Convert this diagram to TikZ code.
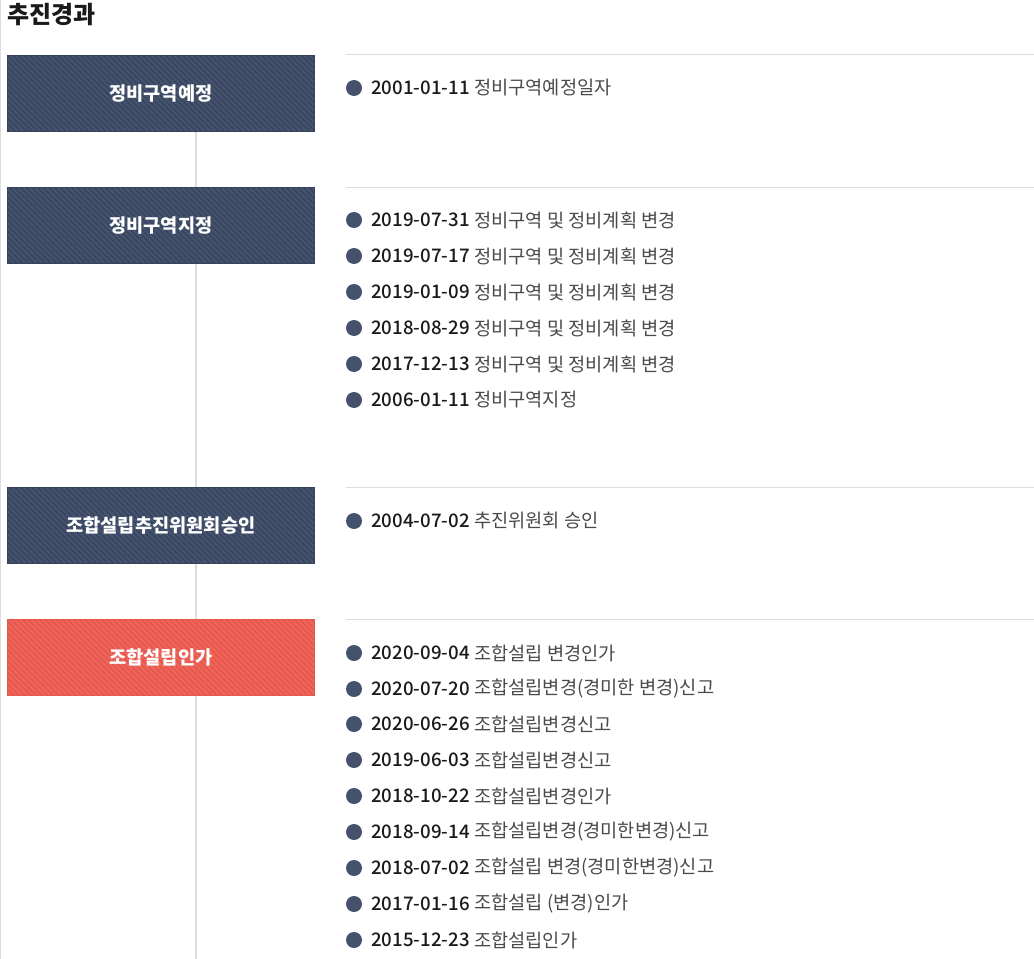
\documentclass[tikz,border=0pt]{standalone}
\usepackage{fontspec}
\setmainfont{Noto Sans CJK KR}
\newfontfamily\krmed{Noto Sans CJK KR Medium}
\usepackage{tikz}
\usetikzlibrary{positioning, patterns.meta}
\definecolor{navy}{HTML}{44526E}
\definecolor{navyline}{HTML}{36435C}
\definecolor{coral}{HTML}{EF6459}
\definecolor{coralline}{HTML}{E4544A}
\definecolor{rule}{HTML}{DDDDDD}
\definecolor{datecol}{HTML}{1A1A1A}
\definecolor{itemcol}{HTML}{4A4A4A}
\tikzset{
    stagebox/.style={minimum width=230.25pt, minimum height=57pt, inner sep=0pt,
        text=white, font=\fontsize{14}{16}\selectfont\bfseries},
    navybox/.style={stagebox, fill=navy, draw=navyline, line width=0.6pt,
        postaction={pattern={Lines[angle=-45, distance=3pt, line width=0.9pt]}, pattern color=navyline}},
    coralbox/.style={stagebox, fill=coral, draw=coralline!60!coral, line width=0.6pt,
        postaction={pattern={Lines[angle=-45, distance=3pt, line width=0.9pt]}, pattern color=coralline}},
    bullet/.style={circle, fill=navy, inner sep=0pt, minimum size=12pt},
    item/.style={anchor=west, inner sep=0pt, font=\fontsize{14}{16}\selectfont, text=itemcol},
    sep/.style={rule, line width=1pt}
}
\newcommand{\entry}[3]{% name, y, date
    \node[bullet] (#1b) at (354,#2) {};
    \node[item] (#1) at (371,#2) {\krmed\textcolor{datecol}{#3}};
}

\begin{document}
\begin{tikzpicture}[x=0.75pt, y=-0.75pt]
    \useasboundingbox (0,0) rectangle (1034,959);
    \fill[white] (0,0) rectangle (1034,959);
    % left edge and timeline
    \draw[sep] (0.5,0) -- (0.5,959);
    \coordinate (tlend) at (196,959);
    % title
    \node[anchor=west, inner sep=0pt, font=\fontsize{18}{20}\selectfont\bfseries, text=datecol]
        (title) at (7,15) {추진경과};
    % stage boxes
    \node[navybox, anchor=north west] (stageA) at (7,55) {정비구역예정};
    \node[navybox, anchor=north west] (stageB) at (7,187) {정비구역지정};
    \node[navybox, anchor=north west] (stageC) at (7,487) {조합설립추진위원회승인};
    \node[coralbox, anchor=north west] (stageD) at (7,619) {조합설립인가};
    \draw[sep] (stageA.south -| tlend) -- (stageB.north -| tlend);
    \draw[sep] (stageB.south -| tlend) -- (stageC.north -| tlend);
    \draw[sep] (stageC.south -| tlend) -- (stageD.north -| tlend);
    \draw[sep] (stageD.south -| tlend) -- (tlend);
    % separators
    \foreach \y in {54.5,187.5,487.5,619.5}
        \draw[sep] (346,\y) -- (1034,\y);
    % entries
    \entry{a1}{88}{2001-01-11} \node[item, right=3pt of a1] {정비구역예정일자};
    \entry{b1}{220}{2019-07-31} \node[item, right=3pt of b1] {정비구역 및 정비계획 변경};
    \entry{b2}{256}{2019-07-17} \node[item, right=3pt of b2] {정비구역 및 정비계획 변경};
    \entry{b3}{292}{2019-01-09} \node[item, right=3pt of b3] {정비구역 및 정비계획 변경};
    \entry{b4}{328}{2018-08-29} \node[item, right=3pt of b4] {정비구역 및 정비계획 변경};
    \entry{b5}{364}{2017-12-13} \node[item, right=3pt of b5] {정비구역 및 정비계획 변경};
    \entry{b6}{400}{2006-01-11} \node[item, right=3pt of b6] {정비구역지정};
    \entry{c1}{521}{2004-07-02} \node[item, right=3pt of c1] {추진위원회 승인};
    \entry{d1}{653}{2020-09-04} \node[item, right=3pt of d1] {조합설립 변경인가};
    \entry{d2}{689}{2020-07-20} \node[item, right=3pt of d2] {조합설립변경(경미한 변경)신고};
    \entry{d3}{724}{2020-06-26} \node[item, right=3pt of d3] {조합설립변경신고};
    \entry{d4}{760}{2019-06-03} \node[item, right=3pt of d4] {조합설립변경신고};
    \entry{d5}{796}{2018-10-22} \node[item, right=3pt of d5] {조합설립변경인가};
    \entry{d6}{832}{2018-09-14} \node[item, right=3pt of d6] {조합설립변경(경미한변경)신고};
    \entry{d7}{868}{2018-07-02} \node[item, right=3pt of d7] {조합설립 변경(경미한변경)신고};
    \entry{d8}{904}{2017-01-16} \node[item, right=3pt of d8] {조합설립 (변경)인가};
    \entry{d9}{940}{2015-12-23} \node[item, right=3pt of d9] {조합설립인가};
\end{tikzpicture}
\end{document}
